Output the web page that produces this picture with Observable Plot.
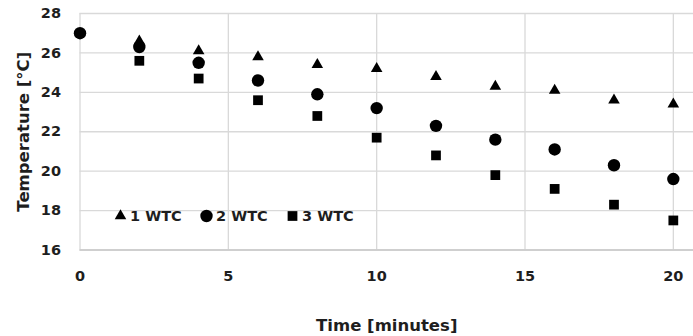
<!DOCTYPE html>
<html>
<head>
<meta charset="utf-8">
<script src="https://cdn.jsdelivr.net/npm/d3@7"></script>
<script src="https://cdn.jsdelivr.net/npm/@observablehq/plot@0.6"></script>
<style>
  html, body { margin: 0; padding: 0; background: #fff; }
  #wrap { position: relative; width: 693px; height: 336px; overflow: hidden; }
  #legend { position: absolute; left: 114px; top: 208px; display: flex; align-items: center;
            font-family: "DejaVu Sans", sans-serif; font-weight: bold; font-size: 14.5px; color: #1e1e1e; }
  #legend .item { display: flex; align-items: center; width: 86px; white-space: nowrap; }
  #legend svg { margin-right: 3px; overflow: visible; }
</style>
</head>
<body>
<div id="wrap"></div>
<script>
// ---- data ----
const minutes = [0, 2, 4, 6, 8, 10, 12, 14, 16, 18, 20];
const seriesNames = ["1 WTC", "2 WTC", "3 WTC"];
const seriesSymbols = ["triangle", "circle", "square"];
const wtc1 = [null, 26.6, 26.1, 25.8, 25.4, 25.2, 24.8, 24.3, 24.1, 23.6, 23.4];
const wtc2 = [27.0, 26.3, 25.5, 24.6, 23.9, 23.2, 22.3, 21.6, 21.1, 20.3, 19.6];
const wtc3 = [null, 25.6, 24.7, 23.6, 22.8, 21.7, 20.8, 19.8, 19.1, 18.3, 17.5];
const xTicks = [0, 5, 10, 15, 20];
const yTicks = [16, 18, 20, 22, 24, 26, 28];
const xTitle = "Time [minutes]";
const yTitle = "Temperature [°C]";

const seriesValues = [wtc1, wtc2, wtc3];
const rows = s => minutes.map((m, i) => ({minutes: m, temp: seriesValues[s][i], series: seriesNames[s]}))
                         .filter(d => d.temp != null);
const symbolSizes = {triangle: 4.3, circle: 6.2, square: 5.5};
// draw order: triangles, squares, circles on top
const drawOrder = [0, 2, 1];

const textColor = "#1e1e1e";
const chart = Plot.plot({
  width: 693,
  height: 336,
  marginLeft: 79.5,
  marginRight: 0,
  marginTop: 13,
  marginBottom: 86.5,
  style: {fontFamily: "'DejaVu Sans', sans-serif", fontWeight: "bold", fontSize: "14.5px", color: textColor, background: "#fff", overflow: "visible"},
  x: {domain: [0, 20.68]},
  y: {domain: [16, 28]},
  marks: [
    Plot.gridX(xTicks, {stroke: "#d9d9d9", strokeOpacity: 1, strokeWidth: 1.3}),
    Plot.gridY(yTicks, {stroke: "#d9d9d9", strokeOpacity: 1, strokeWidth: 1.3}),
    Plot.ruleY([16], {stroke: "#c8c8c8", strokeWidth: 1.5}),
    Plot.axisX(xTicks, {tickSize: 0, tickPadding: 21, fontSize: 14.5, fontWeight: "bold", fill: textColor,
      label: xTitle, labelAnchor: "center", labelArrow: "none", labelOffset: 81}),
    Plot.axisY(yTicks, {tickSize: 0, tickPadding: 19, fontSize: 14.5, fontWeight: "bold", fill: textColor,
      label: yTitle, labelAnchor: "center", labelArrow: "none", labelOffset: 63}),
    ...drawOrder.map(s => Plot.dot(rows(s), {
      x: "minutes", y: "temp", symbol: () => seriesSymbols[s], fill: "#000", stroke: "none",
      r: symbolSizes[seriesSymbols[s]]
    }))
  ],
  symbol: {type: "identity"}
});

// enlarge axis titles
chart.querySelectorAll("g[aria-label='x-axis label'] text, g[aria-label='y-axis label'] text").forEach(t => {
  t.setAttribute("font-size", "16.5");
});

const wrap = document.getElementById("wrap");
wrap.appendChild(chart);

// legend (HTML overlay inside the plot area)
const legend = document.createElement("div");
legend.id = "legend";
seriesNames.forEach((name, i) => {
  const item = document.createElement("div");
  item.className = "item";
  const sym = seriesSymbols[i];
  const r = symbolSizes[sym];
  const path = d3.symbol(d3["symbol" + sym[0].toUpperCase() + sym.slice(1)], Math.PI * r * r)();
  item.innerHTML = `<svg width="13" height="14" viewBox="-6.5 -7 13 14"><path d="${path}" fill="#000"/></svg><span>${name}</span>`;
  legend.appendChild(item);
});
wrap.appendChild(legend);
</script>
</body>
</html>
